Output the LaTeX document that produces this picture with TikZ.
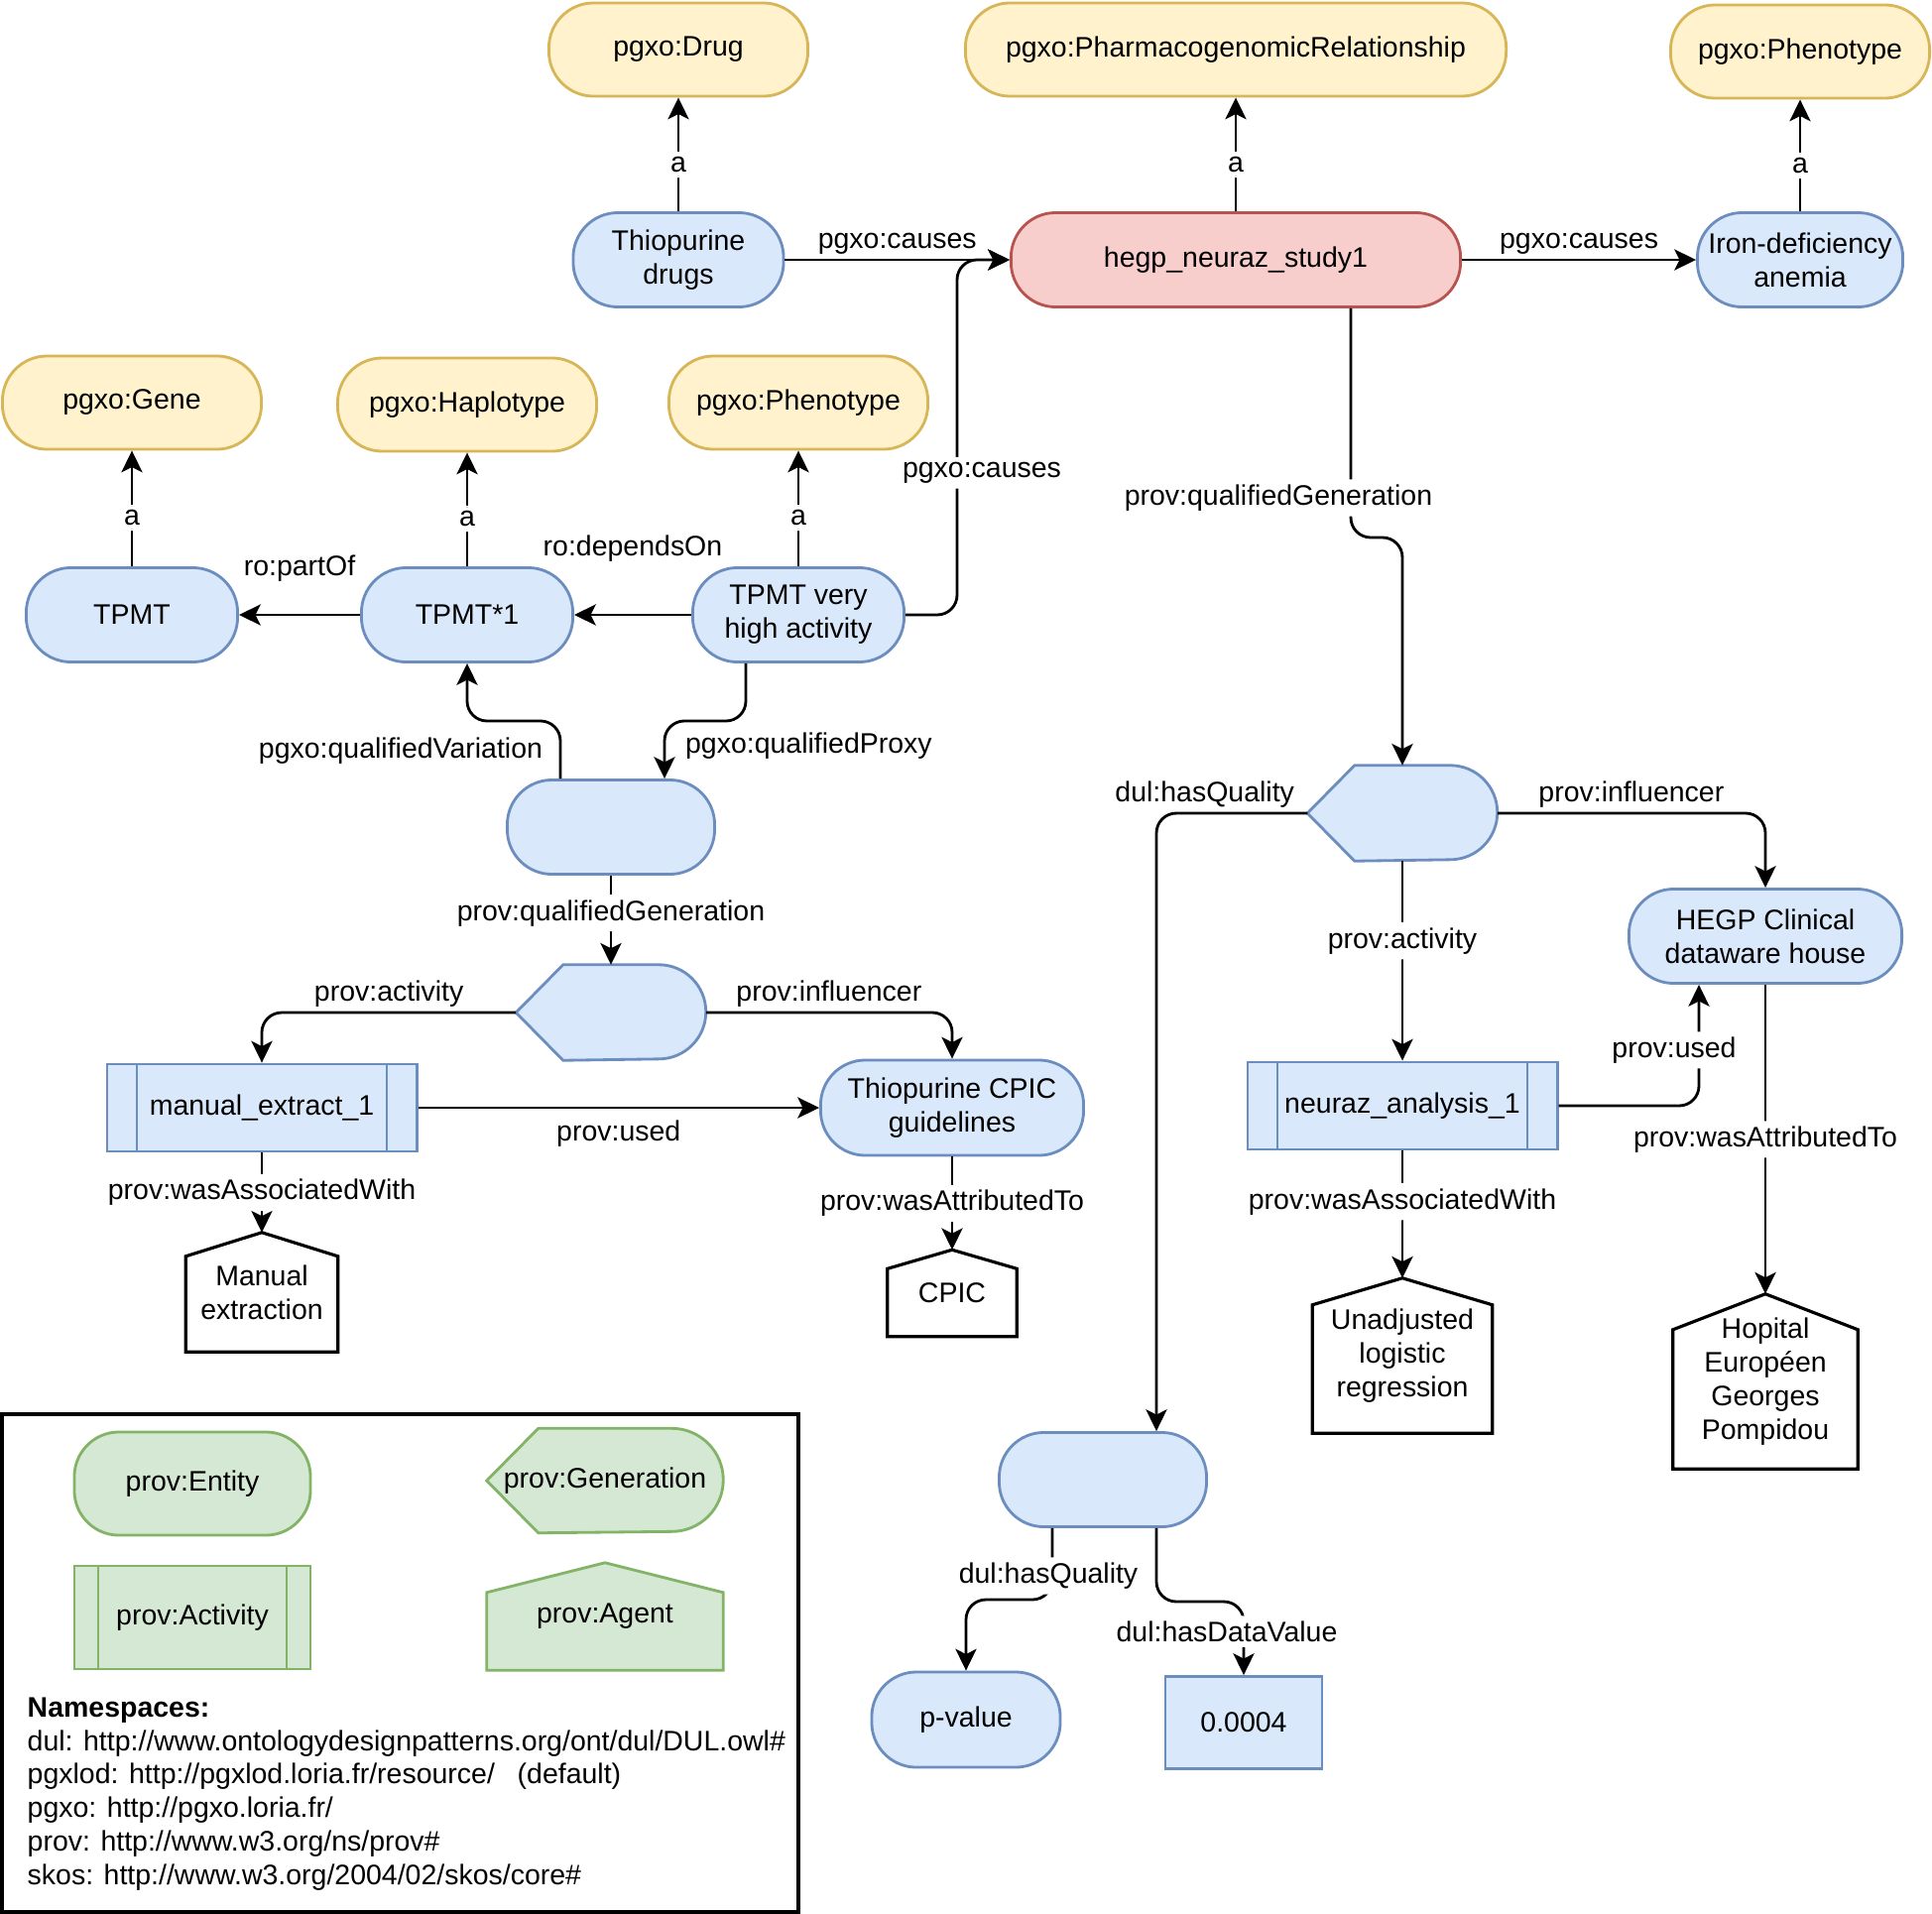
\documentclass[tikz,border=0pt]{standalone}
\usepackage{fontspec}
\setmainfont{Liberation Sans}
\usetikzlibrary{shapes,arrows,arrows.meta,positioning,calc,backgrounds}

\definecolor{entfill}{HTML}{DAE8FC}
\definecolor{entline}{HTML}{6C8EBF}
\definecolor{clsfill}{HTML}{FFF2CC}
\definecolor{clsline}{HTML}{D6B656}
\definecolor{relfill}{HTML}{F8CECC}
\definecolor{relline}{HTML}{B85450}
\definecolor{legfill}{HTML}{D5E8D4}
\definecolor{legline}{HTML}{82B366}

\newcommand{\gendraw}[3]{\draw[#3] (#1.west) -- ([xshift=#2]#1.north west) -- ([xshift=-#2]#1.north east) arc[start angle=90, end angle=-90, radius=#2] -- ([xshift=#2]#1.south west) -- cycle;}
\newcommand{\agentdraw}[3]{\draw[#3] (#1.north) -- ([yshift=-#2]#1.north east) -- (#1.south east) -- (#1.south west) -- ([yshift=-#2]#1.north west) -- cycle;}

\tikzset{
  entity/.style={draw=entline, fill=entfill, line width=0.8pt, rounded corners=0.45cm, minimum height=0.95cm, align=center, inner sep=1pt},
  klass/.style={entity, draw=clsline, fill=clsfill, minimum width=2.61cm, minimum height=0.94cm},
  barsep/.store in=\actbarsep, barsep=0.3cm,
  activity/.style={draw=#1, line width=0.8pt, minimum width=3.12cm, minimum height=0.88cm,
    path picture={\draw[#1, line width=0.8pt]
      ([xshift=\actbarsep]path picture bounding box.north west) -- ([xshift=\actbarsep]path picture bounding box.south west)
      ([xshift=-\actbarsep]path picture bounding box.north east) -- ([xshift=-\actbarsep]path picture bounding box.south east);}},
  activity/.default=entline,
  genbox/.style={minimum width=1.9cm, minimum height=0.95cm, inner sep=0pt},
  genline/.style={draw=entline, fill=entfill, line width=0.8pt},
  agentbox/.style={align=center, inner sep=0pt},
  agentline/.style={draw=black, fill=white, line width=0.9pt},
  link/.style={-{Stealth[length=6.2pt,width=6pt,inset=1.5pt]}, line width=0.8pt, rounded corners=0.2cm},
  lbl/.style={fill=white, inner sep=1.5pt},
  over/.style={above, yshift=-0.08cm},
}

\begin{document}
\begin{tikzpicture}[x=0.01cm, y=-0.01cm, font=\fontsize{8.1}{9.6}\selectfont]
  \useasboundingbox (0,0) rectangle (1948,1930);

  \node[klass] (drug) at (684,50) {pgxo:Drug};
  \node[klass, minimum width=5.45cm] (pgxrel) at (1246,50) {pgxo:PharmacogenomicRelationship};
  \node[klass] (phenotop) at (1815,52) {pgxo:Phenotype};
  \node[klass] (gene) at (133,406) {pgxo:Gene};
  \node[klass] (haplo) at (471,408) {pgxo:Haplotype};
  \node[klass] (pheno) at (805,406) {pgxo:Phenotype};

  \node[entity, minimum width=2.12cm] (thiodrugs) at (684,262) {Thiopurine\\drugs};
  \node[entity, draw=relline, fill=relfill, minimum width=4.53cm] (study) at (1246,262) {hegp\_neuraz\_study1};
  \node[entity, minimum width=2.07cm] (iron) at (1815,262) {Iron-deficiency\\anemia};
  \node[entity, minimum width=2.13cm] (tpmt) at (133,620) {TPMT};
  \node[entity, minimum width=2.13cm] (tpmt1) at (471,620) {TPMT*1};
  \node[entity, minimum width=2.13cm] (tpmtvery) at (805,620) {TPMT very\\high activity};
  \node[entity, minimum width=2.09cm] (qual1) at (616,834) {};
  \node[genbox] (gen1) at (616,1021) {};
  \node[activity, fill=entfill] (manual) at (264,1117) {manual\_extract\_1};
  \node[entity, minimum width=2.65cm, minimum height=0.96cm] (cpicguide) at (960,1117) {Thiopurine CPIC\\guidelines};
  \node[agentbox, minimum width=1.52cm, minimum height=1.19cm] (manualagent) at (264,1303) {Manual\\extraction};
  \node[agentbox, minimum width=1.29cm, minimum height=0.86cm] (cpicagent) at (960,1304) {CPIC};

  \node[genbox] (gen2) at (1414,820) {};
  \node[entity, minimum width=2.75cm] (hegpdw) at (1780,944) {HEGP Clinical\\dataware house};
  \node[activity, fill=entfill] (neuraz) at (1414,1115) {neuraz\_analysis\_1};
  \node[agentbox, minimum width=1.80cm, minimum height=1.55cm] (unadj) at (1414,1367) {Unadjusted\\logistic\\regression};
  \node[agentbox, minimum width=1.85cm, minimum height=1.75cm] (hopital) at (1780,1393) {Hopital\\Européen\\Georges\\Pompidou};
  \node[entity, minimum width=2.09cm] (qual2) at (1112,1492) {};
  \node[entity, minimum width=1.90cm, minimum height=0.96cm] (pvalue) at (974,1734) {p-value};
  \node[draw=entline, fill=entfill, line width=0.8pt, minimum width=1.58cm, minimum height=0.93cm] (value) at (1254,1737) {0.0004};

  \draw[line width=0.9pt] (2,1426) rectangle (805,1928);
  \node[entity, draw=legline, fill=legfill, minimum width=2.38cm, minimum height=1.04cm] (legentity) at (194,1496) {prov:Entity};
  \node[genbox, minimum width=2.37cm, minimum height=1.04cm] (leggen) at (610,1493) {prov:Generation};
  \node[activity=legline, barsep=0.24cm, fill=legfill, minimum width=2.38cm, minimum height=1.04cm] (legactivity) at (194,1631) {prov:Activity};
  \node[agentbox, minimum width=2.37cm, minimum height=1.07cm] (legagent) at (610,1630) {prov:Agent};
  \node[anchor=west, align=left, inner sep=0pt] (namespaces) at (27,1809) {\textbf{Namespaces:}\\
    dul: http://www.ontologydesignpatterns.org/ont/dul/DUL.owl\#\\
    pgxlod: http://pgxlod.loria.fr/resource/\hspace{0.8em}(default)\\
    pgxo: http://pgxo.loria.fr/\\
    prov: http://www.w3.org/ns/prov\#\\
    skos: http://www.w3.org/2004/02/skos/core\#};

  \begin{scope}[on background layer]
    \gendraw{gen1}{0.475cm}{genline}
    \gendraw{gen2}{0.475cm}{genline}
    \gendraw{leggen}{0.52cm}{draw=legline, fill=legfill, line width=0.8pt}
    \agentdraw{manualagent}{0.24cm}{agentline}
    \agentdraw{cpicagent}{0.19cm}{agentline}
    \agentdraw{unadj}{0.27cm}{agentline}
    \agentdraw{hopital}{0.36cm}{agentline}
    \agentdraw{legagent}{0.30cm}{draw=legline, fill=legfill, line width=0.8pt}
  \end{scope}

  \draw[link] (thiodrugs) -- node[lbl, pos=0.41]{a} (drug);
  \draw[link] (study) -- node[lbl, pos=0.41]{a} (pgxrel);
  \draw[link] (iron) -- node[lbl, pos=0.41]{a} (phenotop);
  \draw[link] (tpmt) -- node[lbl, pos=0.42]{a} (gene);
  \draw[link] (tpmt1) -- node[lbl, pos=0.42]{a} (haplo);
  \draw[link] (tpmtvery) -- node[lbl, pos=0.42]{a} (pheno);
  \draw[link] (thiodrugs) -- node[over]{pgxo:causes} (study);
  \draw[link] (study) -- node[over]{pgxo:causes} (iron);
  \draw[link] (tpmtvery.east) -- (965,620) -- node[lbl, pos=0.4, xshift=0.25cm]{pgxo:causes} (965,262) -- (study.west);
  \draw[link] (tpmt1) -- node[above=2mm]{ro:partOf} (tpmt);
  \draw[link] (tpmtvery) -- node[above=4mm]{ro:dependsOn} (tpmt1);
  \draw[link] ($(qual1.north)+(-51,0)$) -- (565,727) -- (471,727) -- (tpmt1.south) node at (404,757) {pgxo:qualifiedVariation};
  \draw[link] ($(tpmtvery.south)+(-53,0)$) -- (752,727) -- (670,727) -- ($(qual1.north)+(54,0)$) node[anchor=west] at (678,752) {pgxo:qualifiedProxy};
  \draw[link] (qual1) -- node[lbl, pos=0.42]{prov:qualifiedGeneration} (gen1);
  \draw[link] (gen1.west) -| node[over, pos=0.25]{prov:activity} (manual.north);
  \draw[link] (gen1.east) -| node[over, pos=0.25]{prov:influencer} (cpicguide.north);
  \draw[link] (manual) -- node[below]{prov:used} (cpicguide);
  \draw[link] (manual) -- node[lbl]{prov:wasAssociatedWith} (manualagent);
  \draw[link] (cpicguide) -- node[lbl]{prov:wasAttributedTo} (cpicagent);

  \draw[link] ($(study.south)+(116,0)$) -- (1362,542) -- (1414,542) -- (gen2.north) node[lbl] at (1289,502) {prov:qualifiedGeneration};
  \draw[link] (gen2.east) -| node[over, pos=0.25]{prov:influencer} (hegpdw.north);
  \draw[link] (gen2) -- node[lbl, pos=0.4]{prov:activity} (neuraz);
  \draw[link] (gen2.west) -| node[over, pos=0.34]{dul:hasQuality} ($(qual2.north)+(54,0)$);
  \draw[link] (neuraz.east) -| node[lbl, pos=0.73, xshift=-0.25cm]{prov:used} ($(hegpdw.south)+(-67,0)$);
  \draw[link] (hegpdw) -- node[lbl]{prov:wasAttributedTo} (hopital);
  \draw[link] (neuraz) -- node[lbl, pos=0.4]{prov:wasAssociatedWith} (unadj);
  \draw[link] ($(qual2.south)+(-51,0)$) -- (1061,1613) -- (974,1613) -- (pvalue.north) node[lbl] at (1057,1589) {dul:hasQuality};
  \draw[link] ($(qual2.south)+(54,0)$) -- (1166,1615) -- (1254,1615) -- (value.north) node[lbl] at (1237,1645) {dul:hasDataValue};
\end{tikzpicture}
\end{document}
